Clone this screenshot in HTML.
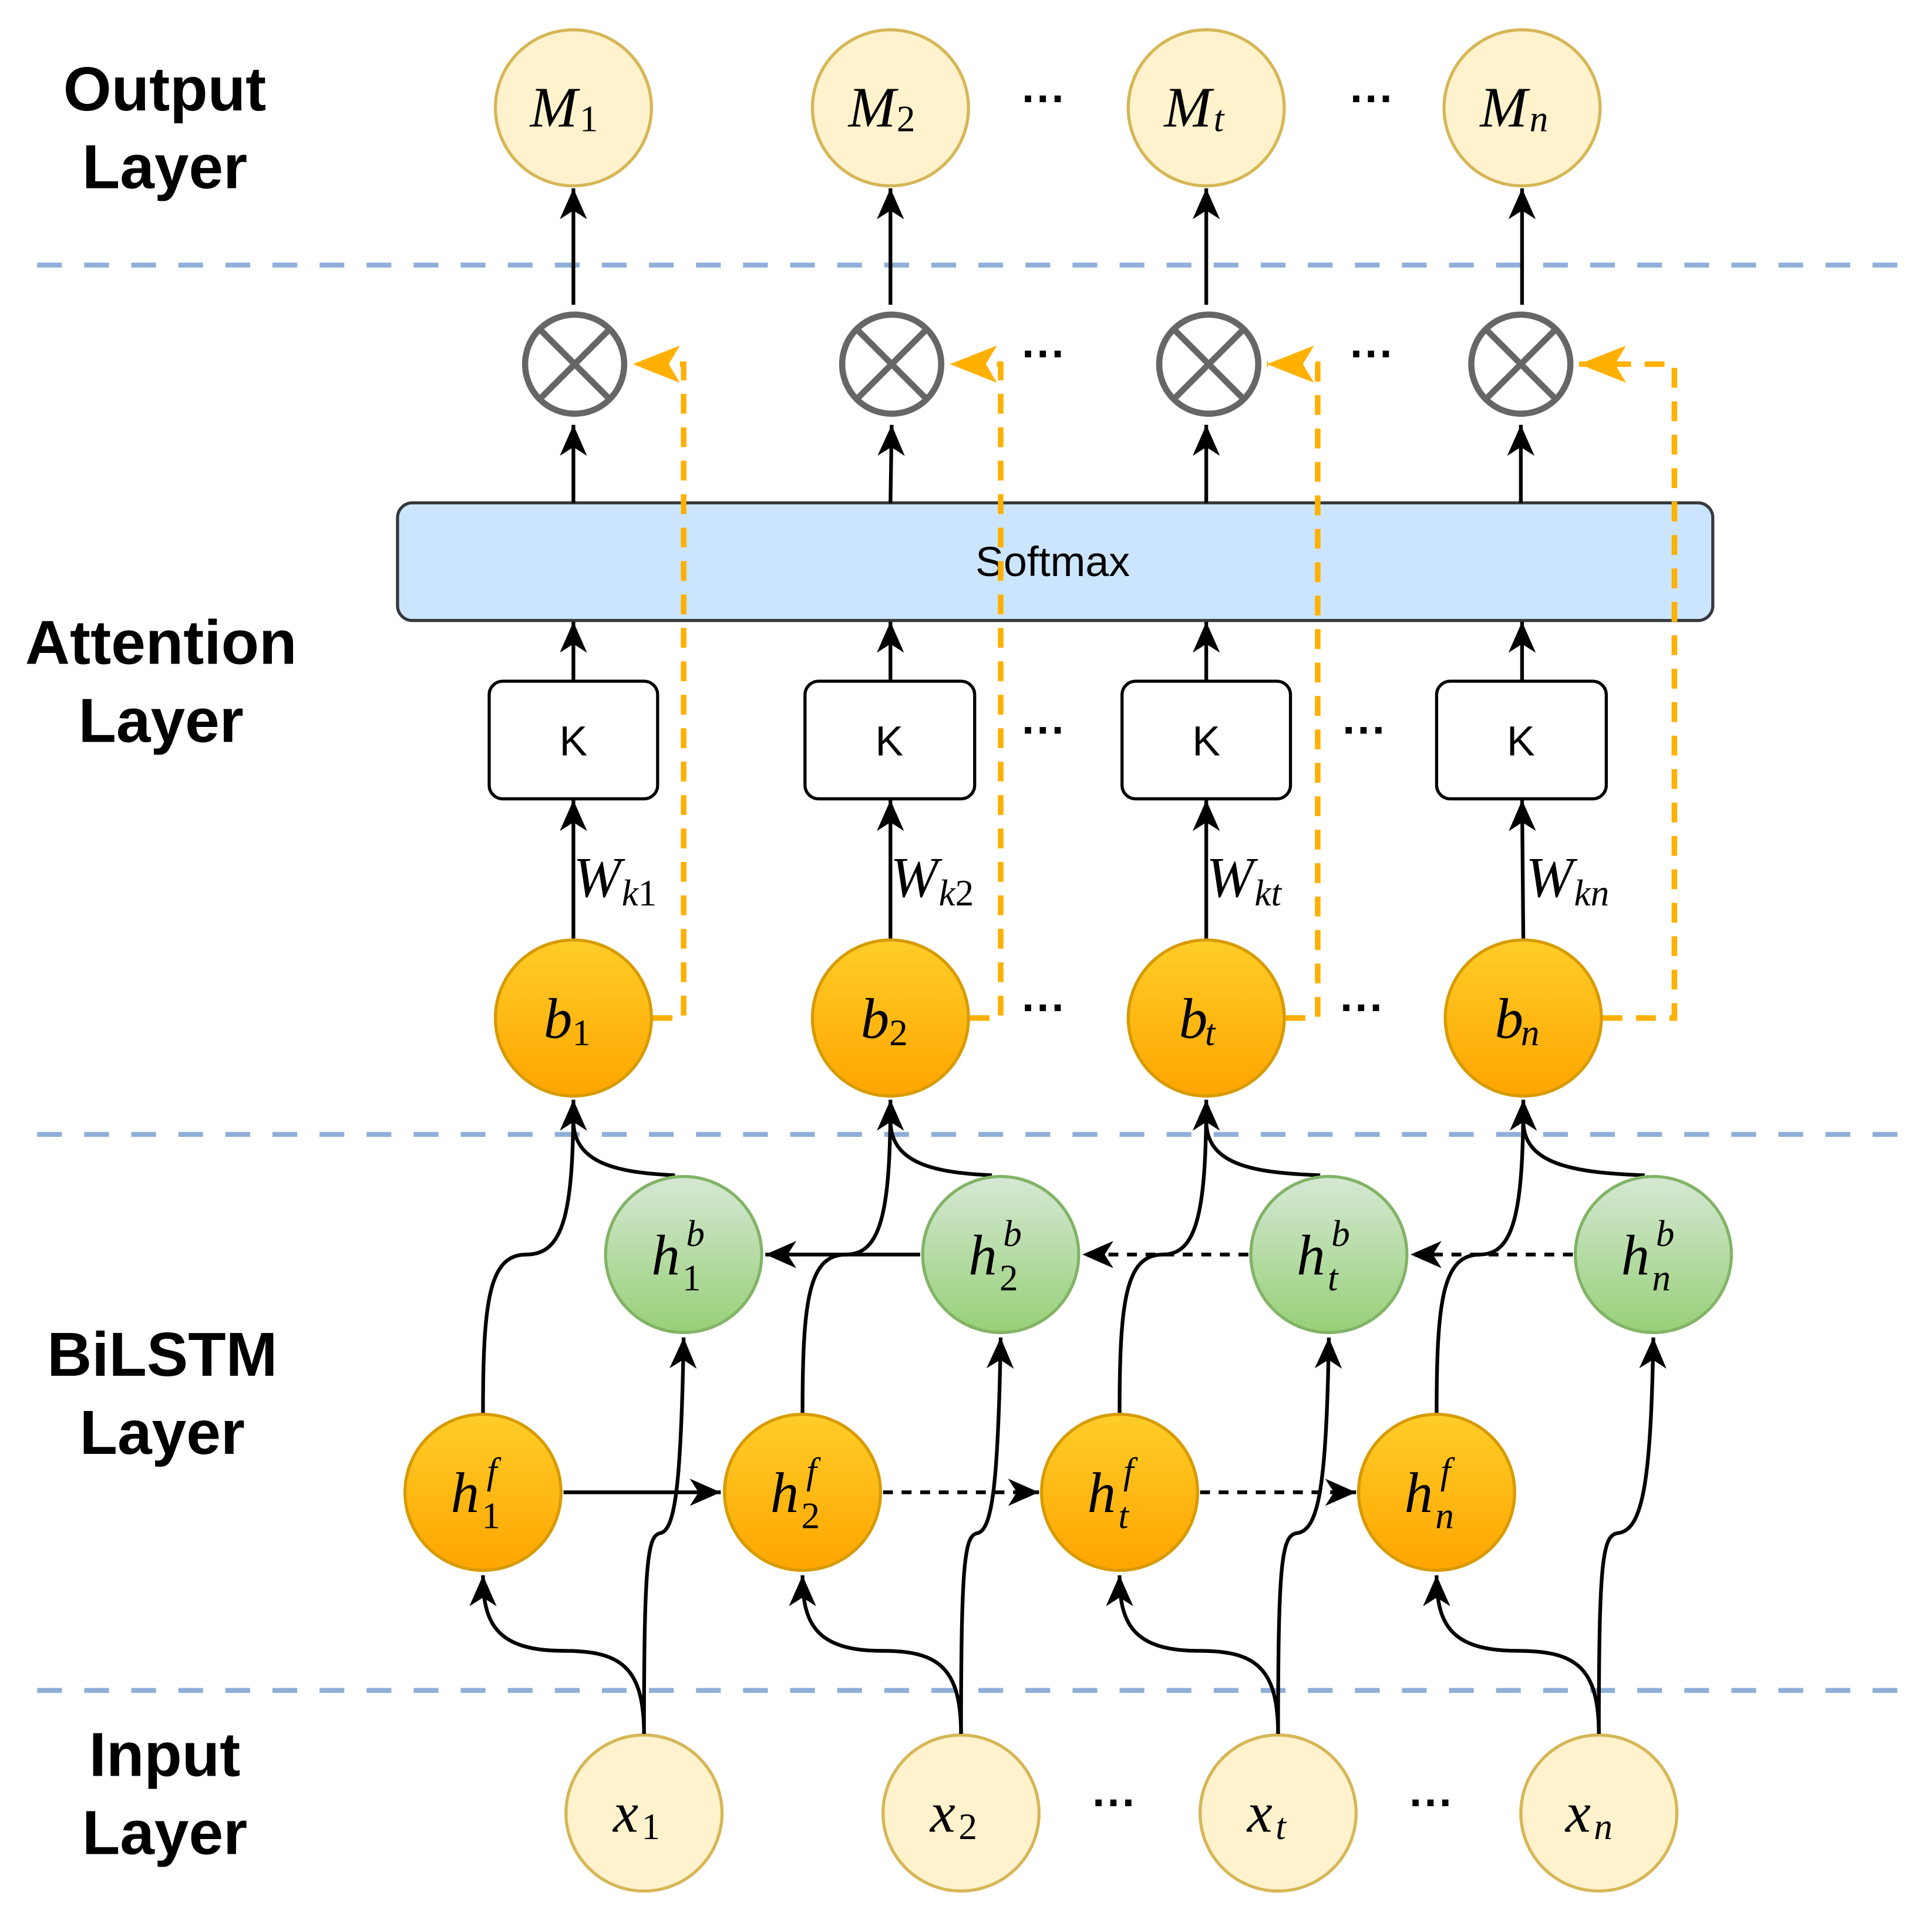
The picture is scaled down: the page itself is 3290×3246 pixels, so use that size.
<!DOCTYPE html>
<html><head><meta charset="utf-8"><style>html,body{margin:0;padding:0;background:#fff}svg{display:block}</style></head>
<body>
<svg xmlns="http://www.w3.org/2000/svg" width="3290" height="3246" viewBox="0 0 1560 1539">
<defs>
<marker id="a" markerUnits="userSpaceOnUse" markerWidth="28" markerHeight="24" refX="25" refY="11" orient="auto"><path d="M0,0 L25,11 L0,22 L7,11 Z" fill="#000"/></marker>
<marker id="o" markerUnits="userSpaceOnUse" markerWidth="42" markerHeight="32" refX="38" refY="15" orient="auto"><path d="M38,15 L0,0 L9,15 L0,30 Z" fill="#ffb000"/></marker>
<linearGradient id="go" x1="0" y1="0" x2="0" y2="1"><stop offset="0" stop-color="#ffcd28"/><stop offset="1" stop-color="#ffa500"/></linearGradient>
<linearGradient id="gg" x1="0" y1="0" x2="0" y2="1"><stop offset="0" stop-color="#d5e8d4"/><stop offset="1" stop-color="#97d077"/></linearGradient>
</defs>
<rect width="1560" height="1539" fill="#fff"/>
<g font-family="Liberation Sans, sans-serif" font-weight="bold" font-size="50" text-anchor="middle">
<text x="133" y="89">Output</text><text x="133" y="152">Layer</text>
<text x="130" y="536">Attention</text><text x="130" y="599">Layer</text>
<text x="131" y="1111">BiLSTM</text><text x="131" y="1174">Layer</text>
<text x="133" y="1434">Input</text><text x="133" y="1497">Layer</text>
</g>
<g stroke="#8fafd8" stroke-width="4" stroke-dasharray="20 18">
<line x1="30" y1="214" x2="1545" y2="214"/><line x1="30" y1="916" x2="1545" y2="916"/><line x1="30" y1="1365" x2="1545" y2="1365"/>
</g>
<rect x="321" y="406" width="1062" height="95" rx="12" fill="#cce5ff" stroke="#36393d" stroke-width="2.5"/>
<text x="850" y="465" font-family="Liberation Sans, sans-serif" font-size="34" text-anchor="middle">Softmax</text>
<g fill="#fff" stroke="#000" stroke-width="2.5">
<rect x="395" y="550" width="136" height="95" rx="11"/><rect x="650" y="550" width="137" height="95" rx="11"/>
<rect x="906" y="550" width="136" height="95" rx="11"/><rect x="1160" y="550" width="137" height="95" rx="11"/>
</g>
<g font-family="Liberation Sans, sans-serif" font-size="34" text-anchor="middle">
<text x="463" y="610">K</text><text x="718" y="610">K</text><text x="974" y="610">K</text><text x="1228" y="610">K</text>
</g>
<g stroke="#000" stroke-width="3" fill="none" marker-end="url(#a)">
<line x1="463" y1="246" x2="463" y2="152"/><line x1="719" y1="246" x2="719" y2="152"/><line x1="974" y1="246" x2="974" y2="152"/><line x1="1229" y1="246" x2="1229" y2="152"/>
<line x1="463" y1="406" x2="463" y2="343"/><line x1="719" y1="406" x2="720" y2="343"/><line x1="974" y1="406" x2="974" y2="343"/><line x1="1228" y1="406" x2="1228" y2="343"/>
<line x1="463" y1="550" x2="463" y2="502"/><line x1="719" y1="550" x2="719" y2="502"/><line x1="974" y1="550" x2="974" y2="502"/><line x1="1229" y1="550" x2="1229" y2="502"/>
<line x1="463" y1="758" x2="463" y2="646"/><line x1="719" y1="758" x2="719" y2="646"/><line x1="974" y1="758" x2="974" y2="646"/><line x1="1230" y1="758" x2="1229" y2="646"/>
</g>
<g stroke="#ffb000" stroke-width="4.5" fill="none" stroke-dasharray="16 11">
<path d="M527,822 H552 V294 H511" marker-end="url(#o)"/>
<path d="M783,822 H808 V294 H767" marker-end="url(#o)"/>
<path d="M1038,822 H1064 V294 H1023" marker-end="url(#o)"/>
<path d="M1294,822 H1352 V294 H1275" marker-end="url(#o)"/>
</g>
<g stroke="#666" stroke-width="5" fill="#fff">
<circle cx="464" cy="294" r="40"/><circle cx="720" cy="294" r="40"/><circle cx="976" cy="294" r="40"/><circle cx="1228" cy="294" r="40"/>
</g>
<g stroke="#666" stroke-width="5">
<path d="M436,266 L492,322 M492,266 L436,322"/>
<path d="M692,266 L748,322 M748,266 L692,322"/>
<path d="M948,266 L1004,322 M1004,266 L948,322"/>
<path d="M1200,266 L1256,322 M1256,266 L1200,322"/>
</g>
<g fill="#fff2cc" stroke="#d6b656" stroke-width="2.5">
<circle cx="463" cy="87" r="63"/><circle cx="719" cy="87" r="63"/><circle cx="974" cy="87" r="63"/><circle cx="1229" cy="87" r="63"/>
<circle cx="520" cy="1464" r="63"/><circle cx="776" cy="1464" r="63"/><circle cx="1032" cy="1464" r="63"/><circle cx="1291" cy="1464" r="63"/>
</g>
<g stroke="#000" stroke-width="3" fill="none">
<path d="M390,1141 C390,1050 395,1013 425,1013 C455,1013 463,980 463,888" marker-end="url(#a)"/>
<path d="M648,1141 C648,1050 653,1013 683,1013 C711,1013 719,980 719,888" marker-end="url(#a)"/>
<path d="M904,1141 C904,1050 909,1013 939,1013 C966,1013 974,980 974,888" marker-end="url(#a)"/>
<path d="M1160,1141 C1160,1050 1165,1013 1195,1013 C1222,1013 1230,980 1230,888" marker-end="url(#a)"/>
<path d="M545,949 C500,947 463,940 463,905"/>
<path d="M801,949 C756,947 719,940 719,905"/>
<path d="M1066,949 C1010,947 974,940 974,905"/>
<path d="M1328,949 C1270,947 1230,940 1230,905"/>
<path d="M520,1400 C520,1345 500,1333 455,1333 C400,1333 390,1310 390,1272" marker-end="url(#a)"/>
<path d="M776,1400 C776,1345 756,1333 712,1333 C658,1333 648,1310 648,1272" marker-end="url(#a)"/>
<path d="M1032,1400 C1032,1345 1012,1333 968,1333 C914,1333 904,1310 904,1272" marker-end="url(#a)"/>
<path d="M1291,1400 C1291,1345 1271,1333 1225,1333 C1170,1333 1160,1310 1160,1272" marker-end="url(#a)"/>
<path d="M520,1400 C520,1260 523,1240 533,1238 C545,1236 550,1200 552,1080" marker-end="url(#a)"/>
<path d="M776,1400 C776,1260 779,1240 789,1238 C801,1236 806,1200 808,1080" marker-end="url(#a)"/>
<path d="M1032,1400 C1032,1260 1035,1240 1047,1238 C1065,1236 1071,1200 1073,1080" marker-end="url(#a)"/>
<path d="M1291,1400 C1291,1260 1294,1240 1306,1238 C1326,1236 1333,1200 1335,1080" marker-end="url(#a)"/>
<line x1="455" y1="1205" x2="582" y2="1205" marker-end="url(#a)"/>
<line x1="713" y1="1205" x2="839" y2="1205" stroke-dasharray="8 7" marker-end="url(#a)"/>
<line x1="969" y1="1205" x2="1095" y2="1205" stroke-dasharray="8 7" marker-end="url(#a)"/>
<line x1="743" y1="1013" x2="618" y2="1013" marker-end="url(#a)"/>
<line x1="1008" y1="1013" x2="874" y2="1013" stroke-dasharray="8 7" marker-end="url(#a)"/>
<line x1="1270" y1="1013" x2="1139" y2="1013" stroke-dasharray="8 7" marker-end="url(#a)"/>
</g>
<g fill="url(#go)" stroke="#d79b00" stroke-width="2.5">
<circle cx="463" cy="822" r="63"/><circle cx="719" cy="822" r="63"/><circle cx="974" cy="822" r="63"/><circle cx="1230" cy="822" r="63"/>
<circle cx="390" cy="1205" r="63"/><circle cx="648" cy="1205" r="63"/><circle cx="904" cy="1205" r="63"/><circle cx="1160" cy="1205" r="63"/>
</g>
<g fill="url(#gg)" stroke="#82b366" stroke-width="2.5">
<circle cx="552" cy="1013" r="63"/><circle cx="808" cy="1013" r="63"/><circle cx="1073" cy="1013" r="63"/><circle cx="1335" cy="1013" r="63"/>
</g>
<g font-family="Liberation Sans, sans-serif" font-size="36" font-weight="bold" text-anchor="middle">
<text x="843" y="92">···</text><text x="1108" y="92">···</text>
<text x="843" y="298">···</text><text x="1108" y="298">···</text>
<text x="843" y="602">···</text><text x="1102" y="602">···</text>
<text x="843" y="826">···</text><text x="1100" y="826">···</text>
<text x="900" y="1468">···</text><text x="1156" y="1468">···</text>
</g>
<g font-family="Liberation Serif, serif" font-style="italic" fill="#000">
<g font-size="46">
<text x="428" y="102">M</text><text x="685" y="102">M</text><text x="940" y="102">M</text><text x="1195" y="102">M</text>
<text x="439" y="838">b</text><text x="695" y="838">b</text><text x="952" y="838">b</text><text x="1207" y="838">b</text>
<text x="495" y="1479">x</text><text x="751" y="1479">x</text><text x="1007" y="1479">x</text><text x="1264" y="1479">x</text>
<text x="364" y="1221">h</text><text x="622" y="1221">h</text><text x="878" y="1221">h</text><text x="1134" y="1221">h</text>
<text x="526" y="1029">h</text><text x="782" y="1029">h</text><text x="1047" y="1029">h</text><text x="1309" y="1029">h</text>
<text x="463" y="724">W</text><text x="719" y="724">W</text><text x="974" y="724">W</text><text x="1232" y="724">W</text>
</g>
<g font-size="30">
<text x="468" y="106" font-style="normal">1</text><text x="724" y="106" font-style="normal">2</text><text x="980" y="106">t</text><text x="1235" y="106">n</text>
<text x="462" y="844" font-style="normal">1</text><text x="718" y="844" font-style="normal">2</text><text x="973" y="844">t</text><text x="1228" y="844">n</text>
<text x="518" y="1485" font-style="normal">1</text><text x="774" y="1485" font-style="normal">2</text><text x="1030" y="1485">t</text><text x="1287" y="1485">n</text>
<text x="389" y="1234" font-style="normal">1</text><text x="647" y="1234" font-style="normal">2</text><text x="903" y="1234">t</text><text x="1159" y="1234">n</text>
<text x="393" y="1198">f</text><text x="651" y="1198">f</text><text x="907" y="1198">f</text><text x="1163" y="1198">f</text>
<text x="551" y="1042" font-style="normal">1</text><text x="807" y="1042" font-style="normal">2</text><text x="1072" y="1042">t</text><text x="1334" y="1042">n</text>
<text x="554" y="1006">b</text><text x="810" y="1006">b</text><text x="1075" y="1006">b</text><text x="1337" y="1006">b</text>
<text x="502" y="731">k<tspan font-style="normal">1</tspan></text><text x="758" y="731">k<tspan font-style="normal">2</tspan></text><text x="1013" y="731">kt</text><text x="1271" y="731">kn</text>
</g>
</g>
</svg>
</body></html>
